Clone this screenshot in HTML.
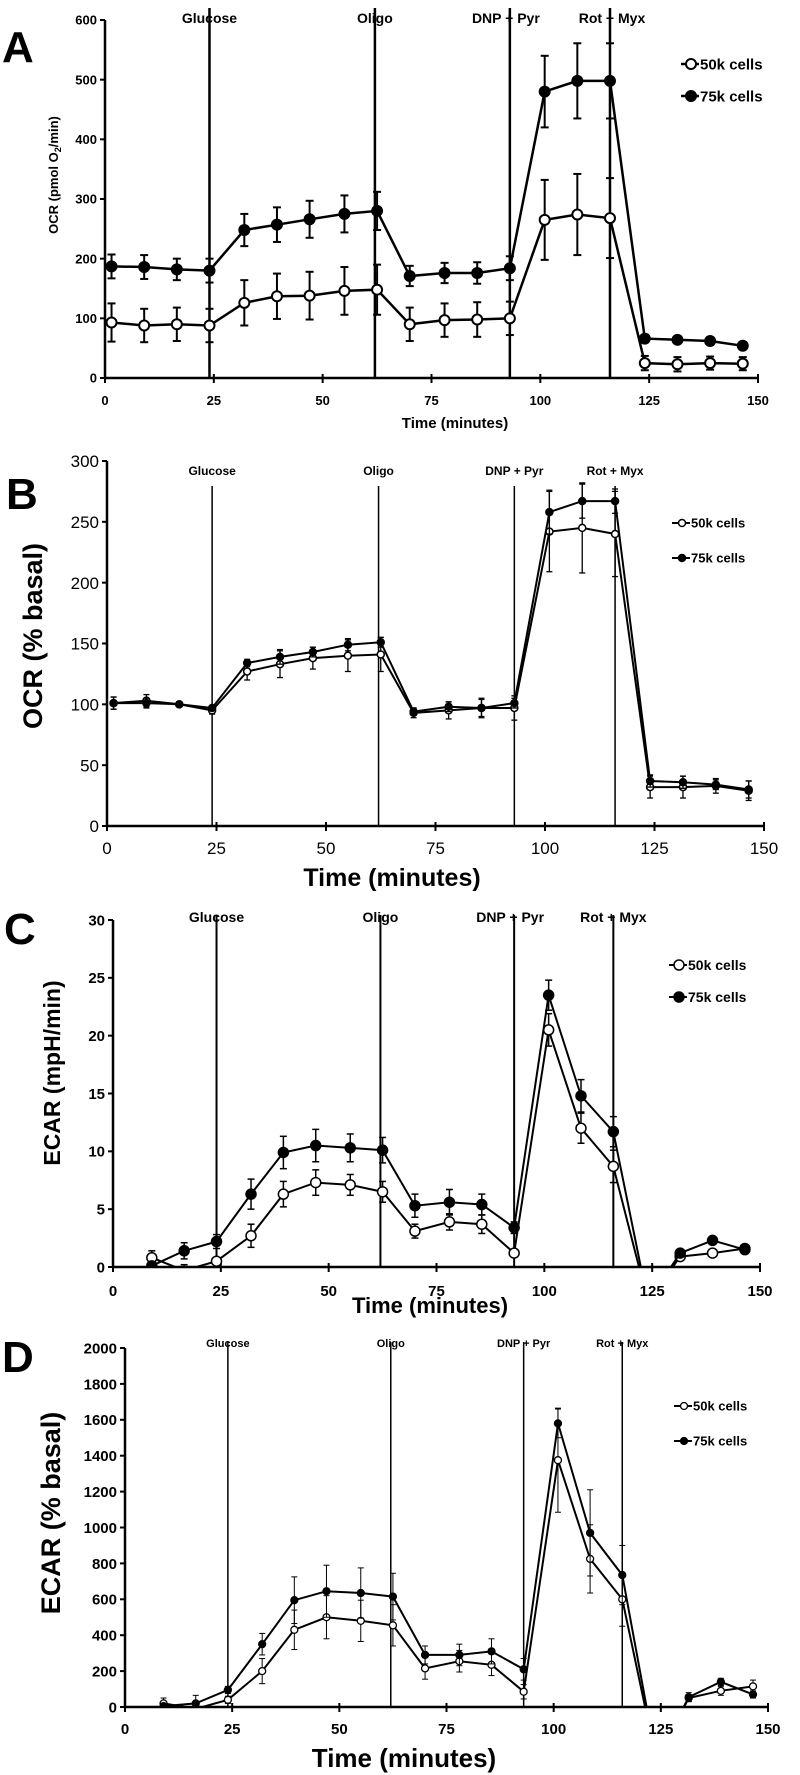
<!DOCTYPE html>
<html><head><meta charset="utf-8">
<style>
html,body{margin:0;padding:0;background:#fff;}
svg{display:block;font-family:"Liberation Sans",Arial,sans-serif;}
</style></head>
<body>
<svg id="fig" width="800" height="1775" viewBox="0 0 800 1775" xmlns="http://www.w3.org/2000/svg"></svg>
<script>
const times = [1.5,9,16.5,24,32,39.5,47,55,62.5,70,78,85.5,93,101,108.5,116,124,131.5,139,146.5];
const events = ["Glucose","Oligo","DNP + Pyr","Rot + Myx"];
const eventTimes = [24,62,93,116];
const xTicks = [0,25,50,75,100,125,150];

const aTicks = [0,100,200,300,400,500,600];
const a50 = [93,88,90,88,126,137,138,146,148,90,97,98,100,265,274,268,25,23,25,24];
const a75 = [187,186,182,180,248,257,266,275,280,171,176,176,184,480,498,498,66,64,62,54];
const a50err = [32,28,28,28,38,38,40,40,42,28,28,29,28,67,68,67,12,12,11,11];
const a75err = [20,20,18,20,27,29,31,31,32,17,17,18,20,60,63,63,6,6,6,6];

const bTicks = [0,50,100,150,200,250,300];
const b50 = [101,103,100,95,127,133,138,140,141,93,95,97,97,242,245,240,32,32,33,29];
const b75 = [101,101,100,97,134,139,143,149,151,94,98,97,101,258,267,267,37,36,34,30];
const b50err = [5,5,2,3,7,11,9,13,14,4,7,7,10,33,37,35,9,9,6,8];
const b75err = [5,4,2,2,3,6,4,5,4,3,4,8,4,18,14,10,5,5,4,7];

const cTicks = [0,5,10,15,20,25,30];
const c50 = [null,0.8,-0.3,0.5,2.7,6.3,7.3,7.1,6.5,3.1,3.9,3.7,1.2,20.5,12.0,8.7,-3,0.9,1.2,1.6];
const c75 = [null,0.1,1.4,2.2,6.3,9.9,10.5,10.3,10.1,5.3,5.6,5.4,3.4,23.5,14.8,11.7,-3,1.2,2.3,1.5];
const c50err = [0,0.6,0.5,0.3,1.0,1.1,1.1,0.9,0.9,0.6,0.7,0.8,0.3,1.4,1.3,1.4,0,0.2,0.2,0.2];
const c75err = [0,0.2,0.7,0.6,1.3,1.4,1.4,1.2,1.1,1.0,1.1,0.9,0.5,1.3,1.4,1.3,0,0.3,0.2,0.2];

const dTicks = [0,200,400,600,800,1000,1200,1400,1600,1800,2000];
const d50 = [null,20,-10,40,200,430,500,480,455,215,255,235,85,1375,825,600,-300,50,90,115];
const d75 = [null,5,20,95,350,595,645,635,615,290,290,310,210,1580,970,735,-300,55,140,70];
const d50err = [0,30,0,20,70,110,120,115,115,60,60,60,40,290,190,150,0,20,25,35];
const d75err = [0,0,45,20,60,130,145,140,130,50,60,70,60,80,240,165,0,25,20,20];

const NS = "http://www.w3.org/2000/svg";
const svg = document.getElementById("fig");
function mk(tag, attrs, parent){
  const e = document.createElementNS(NS, tag);
  for (const k in attrs) e.setAttribute(k, attrs[k]);
  (parent||svg).appendChild(e);
  return e;
}
function txt(s, attrs, parent){ const e = mk("text", attrs, parent); e.textContent = s; return e; }

function panel(cfg){
  const g = mk("g", {});
  
  
  const X = t => cfg.x0 + (cfg.x1 - cfg.x0) * t / 150;
  const Y = v => cfg.y0 - (cfg.y0 - cfg.yTop) * v / cfg.yMax;
  const cid = "clip" + cfg.id;
  const defs = mk("defs", {}, g);
  const cp = mk("clipPath", {id: cid}, defs);
  mk("rect", {x: cfg.x0 - 10, y: 0, width: 800, height: cfg.y0 + 1}, cp);

  const letter = txt(cfg.id, {x: cfg.lx, y: cfg.ly, "font-size": cfg.lsize, "font-weight": "bold"}, g);
  
  

  eventTimes.forEach((t, i) => {
    const l = mk("line", {x1: X(t), x2: X(t), y1: cfg.evTop, y2: cfg.y0, stroke: "#000", "stroke-width": cfg.evW}, g);
    
    
    const et = txt(events[i], {x: X(t) + (cfg.evDx[i]||0), y: cfg.evY, "font-size": cfg.evSize, "font-weight": "bold", "text-anchor": "middle"}, g);
    
    
  });

  const ya = mk("line", {x1: cfg.x0, x2: cfg.x0, y1: cfg.yTop, y2: cfg.y0, stroke: "#000", "stroke-width": 2.5}, g);
  
  
  const xa = mk("line", {x1: cfg.x0, x2: cfg.x1, y1: cfg.y0, y2: cfg.y0, stroke: "#000", "stroke-width": 2.5}, g);
  
  
  cfg.yTicks.forEach(v => {
    mk("line", {x1: cfg.x0 - 5, x2: cfg.x0, y1: Y(v), y2: Y(v), stroke: "#000", "stroke-width": 2}, g);
    const t = txt(String(v), {x: cfg.x0 - 8, y: Y(v) + cfg.tSize*0.36, "font-size": cfg.tSize, "font-weight": cfg.tWeight, "text-anchor": "end"}, g);
    
    
  });
  xTicks.forEach(v => {
    mk("line", {x1: X(v), x2: X(v), y1: cfg.y0 - 4, y2: cfg.y0 + 5, stroke: "#000", "stroke-width": 2}, g);
    const t = txt(String(v), {x: X(v), y: cfg.xlY, "font-size": cfg.tSize, "font-weight": cfg.tWeight, "text-anchor": "middle"}, g);
    
    
  });
  const xt = txt("Time (minutes)", {x: cfg.xtX, y: cfg.xtY, "font-size": cfg.xtSize, "font-weight": "bold", "text-anchor": "middle"}, g);
  
  
  const ytg = mk("g", {transform: `translate(${cfg.ytX},${cfg.ytY}) rotate(-90)`}, g);
  const yt = mk("text", {x: 0, y: 0, "font-size": cfg.ytSize, "font-weight": "bold", "text-anchor": "middle"}, ytg);
  
  
  if (cfg.id === "A") {
    yt.appendChild(document.createTextNode("OCR (pmol O"));
    const sub = mk("tspan", {"font-size": cfg.ytSize*0.7, dy: 3}, yt); sub.textContent = "2";
    const rest = mk("tspan", {dy: -3}, yt); rest.textContent = "/min)";
  } else yt.textContent = cfg.ytitle;

  const series = [[cfg.s50, cfg.e50, "#fff", "50k cells"], [cfg.s75, cfg.e75, "#000", "75k cells"]];
  series.forEach(([vals, errs, fill, name], si) => {
    const sg = mk("g", {"clip-path": `url(#${cid})`}, g);
    
    
    vals.forEach((v, i) => {
      if (v === null || !errs[i]) return;
      const x = X(times[i]);
      mk("line", {x1: x, x2: x, y1: Y(v - errs[i]), y2: Y(v + errs[i]), stroke: "#000", "stroke-width": cfg.ebW}, sg);
      mk("line", {x1: x - cfg.cap, x2: x + cfg.cap, y1: Y(v + errs[i]), y2: Y(v + errs[i]), stroke: "#000", "stroke-width": cfg.ebW}, sg);
      mk("line", {x1: x - cfg.cap, x2: x + cfg.cap, y1: Y(v - errs[i]), y2: Y(v - errs[i]), stroke: "#000", "stroke-width": cfg.ebW}, sg);
    });
    let d = "";
    vals.forEach((v, i) => { if (v === null) return; d += (d ? "L" : "M") + X(times[i]).toFixed(1) + "," + Y(v).toFixed(1); });
    const p = mk("path", {d: d, fill: "none", stroke: "#000", "stroke-width": cfg.lw}, sg);
    
    
    vals.forEach((v, i) => {
      if (v === null || v < 0) return;
      const c = mk("circle", {cx: X(times[i]), cy: Y(v), r: cfg.r, fill: fill, stroke: "#000", "stroke-width": cfg.mW}, sg);
      
      
    });
    const ly = cfg.legY[si];
    const lg = mk("g", {}, g);
    
    
    mk("line", {x1: cfg.legX - 10, x2: cfg.legX + 8, y1: ly, y2: ly, stroke: "#000", "stroke-width": cfg.lw}, lg);
    mk("circle", {cx: cfg.legX, cy: ly, r: cfg.r, fill: fill, stroke: "#000", "stroke-width": cfg.mW}, lg);
    txt(name, {x: cfg.legX + 9, y: ly + cfg.legSize*0.36, "font-size": cfg.legSize, "font-weight": "bold"}, lg);
  });
}

panel({id:"A", x0:105, x1:758, y0:378, yTop:20, yMax:600, yTicks:aTicks, s50:a50, s75:a75, e50:a50err, e75:a75err,
  lx:2, ly:62, lsize:44, evTop:8, evW:2.5, evY:23, evSize:14, evDx:[0,0,-4,2],
  tSize:13, tWeight:"bold", xlY:405, xtX:455, xtY:428, xtSize:15, ytX:58, ytY:175, ytSize:13, ytitle:"",
  r:5, lw:2.5, mW:2, ebW:2, cap:4, legX:691, legY:[64,96], legSize:15});
panel({id:"B", x0:107, x1:764, y0:826, yTop:461, yMax:300, yTicks:bTicks, s50:b50, s75:b75, e50:b50err, e75:b75err,
  lx:6, ly:509, lsize:44, evTop:486, evW:1.5, evY:475, evSize:12, evDx:[0,0,0,0],
  tSize:17, tWeight:"normal", xlY:854, xtX:392, xtY:886, xtSize:25, ytX:42, ytY:636, ytSize:27, ytitle:"OCR (% basal)",
  r:3.5, lw:2, mW:1.5, ebW:1.3, cap:3, legX:682, legY:[523,558], legSize:13});
panel({id:"C", x0:113, x1:760, y0:1267, yTop:920, yMax:30, yTicks:cTicks, s50:c50, s75:c75, e50:c50err, e75:c75err,
  lx:4, ly:944, lsize:44, evTop:915, evW:2, evY:922, evSize:14, evDx:[0,0,-4,0],
  tSize:15, tWeight:"bold", xlY:1296, xtX:430, xtY:1313, xtSize:22, ytX:60, ytY:1073, ytSize:23, ytitle:"ECAR (mpH/min)",
  r:5, lw:2, mW:1.5, ebW:1.5, cap:3.5, legX:679, legY:[965,997], legSize:14});
panel({id:"D", x0:125, x1:768, y0:1707, yTop:1348, yMax:2000, yTicks:dTicks, s50:d50, s75:d75, e50:d50err, e75:d75err,
  lx:2, ly:1372, lsize:44, evTop:1342, evW:1.5, evY:1347, evSize:11, evDx:[0,0,0,0],
  tSize:15, tWeight:"bold", xlY:1734, xtX:404, xtY:1767, xtSize:26, ytX:60, ytY:1513, ytSize:27, ytitle:"ECAR (% basal)",
  r:3.5, lw:2, mW:1.3, ebW:1, cap:3, legX:684, legY:[1406,1441], legSize:13});
</script>
</body></html>
